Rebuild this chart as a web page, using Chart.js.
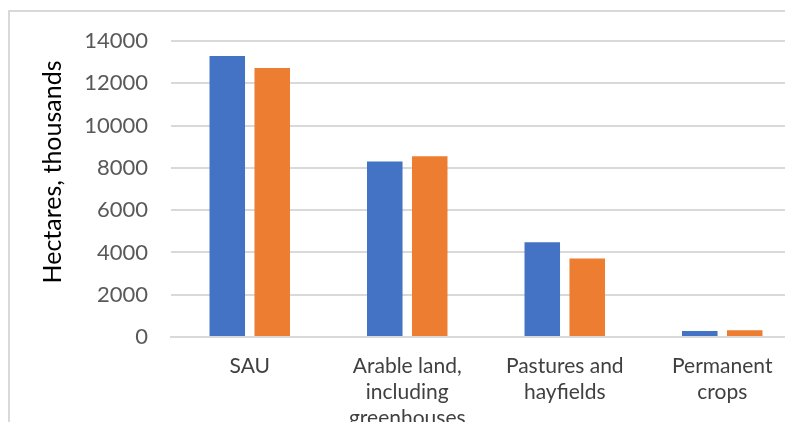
<!DOCTYPE html>
<html>
<head>
<meta charset="utf-8">
<script src="https://cdn.jsdelivr.net/npm/chart.js@4.4.0/dist/chart.umd.min.js"></script>
<style>
  html, body { margin: 0; padding: 0; background: #fff; overflow: hidden; }
  #frame { position: absolute; left: 8px; top: 10px; width: 900px; height: 500px;
           border-left: 2px solid #d9d9d9; border-top: 2px solid #d9d9d9; }
  #wrap { position: absolute; left: 0; top: 0; width: 830px; height: 440px; }
</style>
</head>
<body>
<div id="frame"></div>
<div id="wrap"><canvas id="chart" width="830" height="440"></canvas></div>
<script>
// data
const categories = ["SAU", ["Arable land,", "including", "greenhouses"], ["Pastures and", "hayfields"], ["Permanent", "crops"]];
const seriesA = [13290, 8300, 4480, 280];
const seriesB = [12720, 8550, 3710, 320];
const yTicks = [0, 2000, 4000, 6000, 8000, 10000, 12000, 14000];

Chart.defaults.font.family = "Lato";

// axis title drawn by hand, the reference puts it a bit above the middle
const yTitle = {
  id: "yTitle",
  afterDraw(chart) {
    const ctx = chart.ctx;
    ctx.save();
    ctx.translate(53, 172);
    ctx.rotate(-Math.PI / 2);
    ctx.font = "25px Lato";
    ctx.fillStyle = "#000";
    ctx.textAlign = "center";
    ctx.textBaseline = "middle";
    ctx.fillText("Hectares, thousands", 0, 0);
    ctx.restore();
  }
};

new Chart(document.getElementById("chart"), {
  type: "bar",
  data: {
    labels: categories,
    datasets: [
      { label: "A", data: seriesA, backgroundColor: "#4472C4" },
      { label: "B", data: seriesB, backgroundColor: "#ED7D31" }
    ]
  },
  options: {
    responsive: false,
    animation: false,
    categoryPercentage: 0.571,
    barPercentage: 0.79,
    layout: { padding: { left: 0, top: 41, right: 29, bottom: 0 } },
    plugins: { legend: { display: false }, tooltip: { enabled: false } },
    scales: {
      x: {
        grid: { display: false },
        border: { display: true, color: "#d9d9d9", width: 2 },
        ticks: { color: "#404040", font: { size: 21, lineHeight: 1.25 }, padding: 8, maxRotation: 0, autoSkip: false },
        afterFit: (s) => { s.height = 103; }
      },
      y: {
        min: 0,
        max: 14000,
        afterBuildTicks: (s) => { s.ticks = yTicks.map((v) => ({ value: v })); },
        grid: { color: "#d9d9d9", lineWidth: 2, drawTicks: false },
        border: { display: false },
        ticks: { color: "#595959", font: { size: 22 }, padding: 23, callback: (v) => String(v) },
        afterFit: (s) => { s.width = 171; }
      }
    }
  },
  plugins: [yTitle]
});
</script>
</body>
</html>
